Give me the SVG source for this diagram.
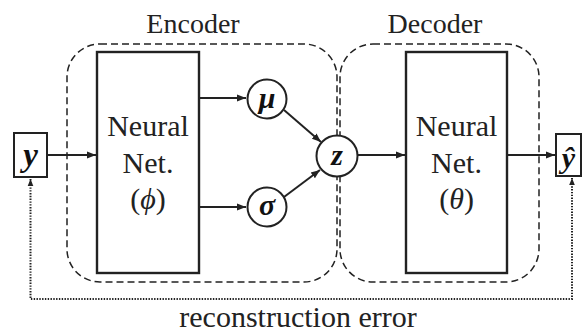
<svg xmlns="http://www.w3.org/2000/svg" width="582" height="332" viewBox="0 0 582 332">
<style>
.dash{fill:none;stroke:#222;stroke-width:1.5;stroke-dasharray:7 4}
.box{fill:#fff;stroke:#222;stroke-width:2.4}
.sbox{fill:#fff;stroke:#222;stroke-width:2}
.circ{fill:#fff;stroke:#222;stroke-width:2}
.ln{fill:none;stroke:#222;stroke-width:2}
.dot{fill:none;stroke:#222;stroke-width:2;stroke-dasharray:1.4 1.4}
.lbl{fill:#222;text-anchor:middle}
.math{font-style:italic;font-weight:bold;fill:#111;text-anchor:middle}
</style>
<defs>
<marker id="ah" viewBox="0 0 10 10" refX="10" refY="5" markerWidth="4.5" markerHeight="4.5" orient="auto-start-reverse" markerUnits="strokeWidth">
<path d="M0,1 L10,5 L0,9 z" fill="#222"/>
</marker>
<marker id="ahd" viewBox="0 0 10 10" refX="10" refY="5" markerWidth="3.5" markerHeight="3.5" orient="auto-start-reverse" markerUnits="strokeWidth">
<path d="M0,1 L10,5 L0,9 z" fill="#222"/>
</marker>
</defs>
<rect width="582" height="332" fill="#fff"/>
<g font-family="'Liberation Serif', 'Times New Roman', 'DejaVu Serif', serif">
<g id="encoder-group">
<rect class="dash" x="67" y="44" width="270" height="238" rx="33" ry="33"/>
<text class="lbl" x="193" y="33" font-size="28">Encoder</text>
</g>
<g id="decoder-group">
<rect class="dash" x="340" y="44" width="199" height="238" rx="33" ry="33"/>
<text class="lbl" x="435" y="33" font-size="28">Decoder</text>
</g>
<g id="connectors">
<line class="ln" x1="47" y1="155" x2="96" y2="155" marker-end="url(#ah)"/>
<line class="ln" x1="199" y1="98" x2="246" y2="98" marker-end="url(#ah)"/>
<line class="ln" x1="199" y1="207" x2="246" y2="207" marker-end="url(#ah)"/>
<line class="ln" x1="284" y1="110" x2="321" y2="142" marker-end="url(#ah)"/>
<line class="ln" x1="284" y1="197" x2="320" y2="170" marker-end="url(#ah)"/>
<line class="ln" x1="357" y1="155" x2="405" y2="155" marker-end="url(#ah)"/>
<line class="ln" x1="507" y1="155" x2="555" y2="155" marker-end="url(#ah)"/>
<path class="dot" d="M30.5,179 V299 H572 V178" marker-start="url(#ahd)" marker-end="url(#ahd)"/>
</g>
<g id="node-y">
<rect class="sbox" x="14" y="133" width="33" height="44"/>
<text class="math" x="30.5" y="166" font-size="33">y</text>
</g>
<g id="node-encoder-nn">
<rect class="box" x="97" y="52" width="102" height="221"/>
<text class="lbl" x="148" y="136" font-size="30">Neural</text>
<text class="lbl" x="148" y="173" font-size="30">Net.</text>
<text class="lbl" x="148" y="209" font-size="30">(<tspan font-style="italic">ϕ</tspan>)</text>
</g>
<g id="node-mu">
<circle class="circ" cx="267" cy="99" r="19.5"/>
<text class="math" x="267" y="108" font-size="30">μ</text>
</g>
<g id="node-sigma">
<circle class="circ" cx="267" cy="207" r="19.5"/>
<text class="math" x="267" y="215" font-size="30">σ</text>
</g>
<g id="node-z">
<circle class="circ" cx="337" cy="156" r="20.5"/>
<text class="math" x="337" y="165" font-size="30">z</text>
</g>
<g id="node-decoder-nn">
<rect class="box" x="406" y="52" width="101" height="221"/>
<text class="lbl" x="456.5" y="136" font-size="30">Neural</text>
<text class="lbl" x="456.5" y="173" font-size="30">Net.</text>
<text class="lbl" x="456.5" y="209" font-size="30">(<tspan font-style="italic">θ</tspan>)</text>
</g>
<g id="node-yhat">
<rect class="sbox" x="556" y="134" width="25" height="42"/>
<text class="math" x="568.5" y="168" font-size="30">ŷ</text>
</g>
<g id="label-reconstruction">
<text class="lbl" x="298" y="327" font-size="30">reconstruction error</text>
</g>
</g>
</svg>
